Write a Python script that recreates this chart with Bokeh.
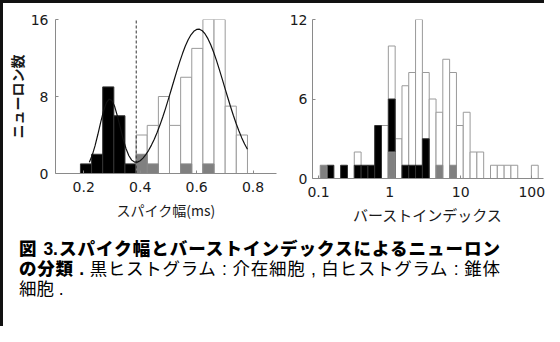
from bokeh.plotting import figure
from bokeh.models import ColumnDataSource, FixedTicker, CustomJSTickFormatter, Div
from bokeh.layouts import row, column
from bokeh.embed import file_html
from bokeh.resources import INLINE

# ---------------- data ----------------
# Left: spike width histogram (ms), 15 bins
spike_edges = [0.1883, 0.2278, 0.2672, 0.3067, 0.3461, 0.3856, 0.4250, 0.4645,
               0.5039, 0.5434, 0.5828, 0.6223, 0.6617, 0.7012, 0.7406, 0.7801]
spike_black = [1, 2, 9, 6, 1, 0, 0, 0, 0, 0, 0, 0, 0, 0, 0]
spike_white = [0, 0, 0, 0, 0, 4, 5, 8, 5, 10, 13, 16, 16, 7, 4]
spike_gray = [0, 0, 0, 0, 0, 2, 1, 0, 0, 1, 0, 1, 0, 0, 0]
spike_threshold = [0.386]
spike_yticks = [0, 8, 16]
spike_xticks = [0.2, 0.4, 0.6, 0.8]

# fitted curve
fit_x = [0.22, 0.23, 0.24, 0.25, 0.26, 0.27, 0.28, 0.29, 0.30, 0.31, 0.32, 0.33,
         0.34, 0.35, 0.36, 0.37, 0.38, 0.39, 0.40, 0.41, 0.42, 0.43, 0.44, 0.45,
         0.46, 0.47, 0.48, 0.49, 0.50, 0.51, 0.52, 0.53, 0.54, 0.55, 0.56, 0.57,
         0.58, 0.59, 0.60, 0.61, 0.62, 0.63, 0.64, 0.65, 0.66, 0.67, 0.68, 0.69,
         0.70, 0.71, 0.72, 0.73, 0.74, 0.75, 0.76, 0.77, 0.78]
fit_y = [1.16, 1.89, 2.87, 4.05, 5.31, 6.47, 7.33, 7.73, 7.58, 6.93, 5.90, 4.71,
         3.55, 2.57, 1.84, 1.39, 1.19, 1.18, 1.33, 1.60, 1.96, 2.41, 2.95, 3.56,
         4.26, 5.03, 5.87, 6.77, 7.72, 8.70, 9.69, 10.66, 11.60, 12.46, 13.24, 13.89,
         14.41, 14.77, 14.97, 14.99, 14.83, 14.50, 14.01, 13.38, 12.63, 11.78, 10.85, 9.89,
         8.90, 7.92, 6.96, 6.05, 5.19, 4.41, 3.70, 3.06, 2.51]

# Right: burst index histogram (log bins), 32 bins
burst_edges = [0.1057, 0.1318, 0.1644, 0.2046, 0.2553, 0.3184, 0.3972, 0.4955,
               0.6166, 0.7691, 0.9594, 1.197, 1.493, 1.858, 2.317, 2.891, 3.606,
               4.498, 5.598, 6.982, 8.710, 10.86, 13.55, 16.87, 21.04, 26.24,
               32.73, 40.83, 50.82, 63.39, 79.07, 98.63, 123.0]
burst_white = [0, 0, 0, 0, 0, 2, 0, 0, 0, 4, 10, 3, 7, 8, 12, 8, 6, 5, 9, 8, 4, 5,
               2, 2, 0, 1, 1, 1, 1, 0, 0, 1]
burst_black = [0, 1, 0, 1, 0, 1, 1, 1, 4, 0, 6, 0, 1, 1, 1, 3, 0, 0, 0, 0, 0, 0,
               0, 0, 0, 0, 0, 0, 0, 0, 0, 0]
burst_gray = [1, 0, 0, 0, 0, 0, 0, 0, 0, 0, 2, 0, 0, 0, 0, 0, 0, 1, 0, 1, 0, 0,
              0, 0, 0, 0, 0, 0, 0, 0, 0, 0]
burst_yticks = [0, 6, 12]
burst_xticks = [0.1, 1, 10, 100]

# ---------------- helpers ----------------
def hist_source(edges, counts):
    l, r, t = [], [], []
    for i, c in enumerate(counts):
        if c > 0:
            l.append(edges[i]); r.append(edges[i + 1]); t.append(c)
    return ColumnDataSource(dict(left=l, right=r, top=t, bottom=[0] * len(t)))

AX = "#8a8a8a"
TXT = "#1a1a1a"
CJK = "Noto Sans CJK JP"

def style(p):
    p.outline_line_color = None
    p.xgrid.visible = False
    p.ygrid.visible = False
    p.background_fill_color = "white"
    p.border_fill_color = "white"
    for ax in (p.xaxis[0], p.yaxis[0]):
        ax.axis_line_color = AX
        ax.major_tick_line_color = AX
        ax.major_tick_in = 3
        ax.major_tick_out = 0
        ax.minor_tick_line_color = None
        ax.major_label_text_font = "DejaVu Sans"
        ax.major_label_text_font_size = "14px"
        ax.major_label_text_color = TXT
        ax.axis_label_text_font = CJK
        ax.axis_label_text_color = TXT
    p.xaxis.major_label_standoff = 8
    p.yaxis.major_label_standoff = 7

# ---------------- left panel ----------------
p1 = figure(frame_width=221, frame_height=154, x_range=(0.1, 0.883), y_range=(0, 16),
            min_border_left=49, min_border_right=9, min_border_top=16, min_border_bottom=54,
            output_backend="svg", toolbar_location=None)
style(p1)
p1.quad(source=hist_source(spike_edges, spike_white), left="left", right="right",
        top="top", bottom="bottom", fill_color="white", line_color="#9a9a9a", line_width=1)
p1.quad(source=hist_source(spike_edges, spike_black), left="left", right="right",
        top="top", bottom="bottom", fill_color="black", line_color="#333333", line_width=1)
p1.quad(source=hist_source(spike_edges, spike_gray), left="left", right="right",
        top="top", bottom="bottom", fill_color="#808080", line_color="#8a8a8a", line_width=1)
p1.segment(x0=spike_threshold, y0=[0], x1=spike_threshold, y1=[16],
           line_color="#333333", line_width=1, line_dash="3 2")
p1.line(fit_x, fit_y, line_color="#111111", line_width=1.2)
p1.xaxis.ticker = FixedTicker(ticks=spike_xticks)
p1.yaxis.ticker = FixedTicker(ticks=spike_yticks)
p1.xaxis.axis_label = "スパイク幅(ms)"
p1.xaxis.axis_label_text_font_size = "14px"
p1.xaxis.axis_label_text_font_style = "normal"
p1.xaxis.axis_label_standoff = 5
p1.yaxis.axis_label = "ニューロン数"
p1.yaxis.axis_label_text_font_size = "14px"
p1.yaxis.axis_label_text_font_style = "bold"
p1.yaxis.axis_label_standoff = 1

# ---------------- right panel ----------------
p2 = figure(frame_width=231, frame_height=159, x_axis_type="log",
            x_range=(0.0823, 146), y_range=(0, 12),
            min_border_left=27, min_border_right=4, min_border_top=11, min_border_bottom=54,
            output_backend="svg", toolbar_location=None)
style(p2)
p2.quad(source=hist_source(burst_edges, burst_white), left="left", right="right",
        top="top", bottom="bottom", fill_color="white", line_color="#9a9a9a", line_width=1)
p2.quad(source=hist_source(burst_edges, burst_black), left="left", right="right",
        top="top", bottom="bottom", fill_color="black", line_color="#333333", line_width=1)
p2.quad(source=hist_source(burst_edges, burst_gray), left="left", right="right",
        top="top", bottom="bottom", fill_color="#808080", line_color="#8a8a8a", line_width=1)
p2.xaxis.ticker = FixedTicker(ticks=burst_xticks)
p2.xaxis.formatter = CustomJSTickFormatter(code="return String(tick);")
p2.yaxis.ticker = FixedTicker(ticks=burst_yticks)
p2.yaxis.major_label_standoff = 5
p2.xaxis.axis_label = "バーストインデックス"
p2.xaxis.axis_label_text_font_size = "15px"
p2.xaxis.axis_label_text_font_style = "normal"
p2.xaxis.axis_label_standoff = 4

# ---------------- caption ----------------
caption_html = (
    '<div style="font-family:\'Liberation Sans\',\'Noto Sans CJK JP\',sans-serif;'
    'font-size:17.5px;line-height:20px;color:#000;width:481px;">'
    '<div style="text-align:justify;text-align-last:justify;font-weight:900;">'
    '図 3.スパイク幅とバーストインデックスによるニューロン</div>'
    '<div style="text-align:justify;text-align-last:justify;">'
    '<span style="font-weight:900;">の分類 .</span> 黒ヒストグラム : 介在細胞 , 白ヒストグラム : 錐体</div>'
    '<div>細胞 .</div>'
    '</div>'
)
cap = Div(text=caption_html, width=500, height=70, margin=(12, 0, 0, 16))

# frame lines (left and top edges of the figure box)
top_line = Div(text="", width=544, height=3, margin=(0, 0, 0, 0),
               styles={"background-color": "#111111"})
left_line = Div(text="", width=3, height=323, margin=(0, 0, 0, 0),
                styles={"background-color": "#111111"})

body = column(row(p1, p2), cap)
layout = column(top_line, row(left_line, body))

open("out.html", "w").write(file_html(layout, INLINE))
